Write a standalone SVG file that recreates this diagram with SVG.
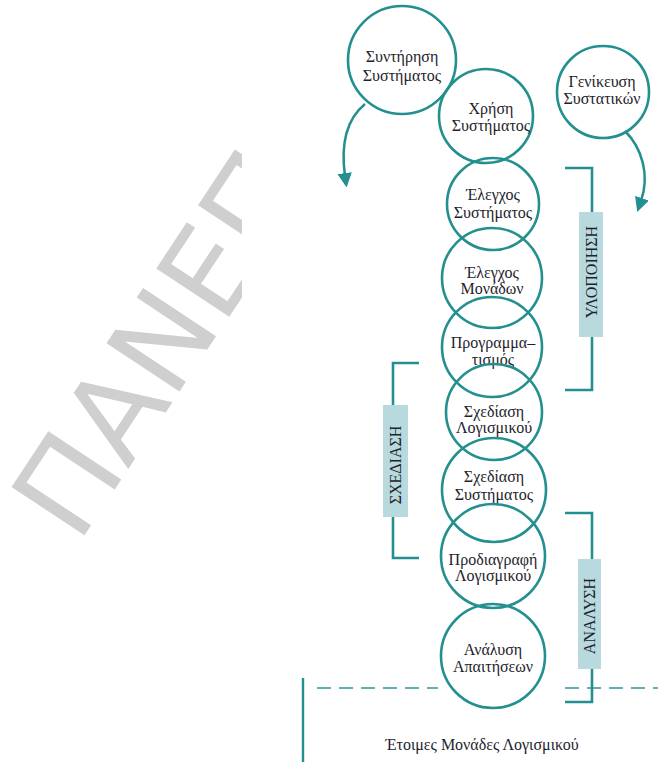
<svg xmlns="http://www.w3.org/2000/svg" width="658" height="762" viewBox="0 0 658 762">
  <style>
    .stage circle { fill: none; stroke: #23908f; stroke-width: 2.6; }
    .stage text, .caption { font-family: "Liberation Serif", "Times New Roman", serif; font-size: 16px; fill: #1e1e2c; text-anchor: middle; }
    .bracket { fill: none; stroke: #23908f; stroke-width: 2.6; }
    .tag rect { fill: #b8dade; }
    .tag text { font-family: "Liberation Serif", "Times New Roman", serif; font-size: 16px; fill: #1e1e2c; text-anchor: middle; }
    .flow { fill: none; stroke: #23908f; stroke-width: 2.5; }
    .watermark { font-family: "DejaVu Sans", sans-serif; font-size: 120px; fill: #cfcfcf; }
  </style>
  <defs>
    <marker id="head" viewBox="0 0 10 10" refX="2" refY="5" markerWidth="5.8" markerHeight="5.8" orient="auto" markerUnits="strokeWidth">
      <path d="M0,0 L10,5 L0,10 Z" fill="#23908f"/>
    </marker>
    <clipPath id="wm-clip">
      <rect x="0" y="0" width="242" height="762"/>
    </clipPath>
  </defs>

  <rect width="658" height="762" fill="#ffffff"/>

  <!-- background watermark -->
  <g clip-path="url(#wm-clip)">
    <text class="watermark" transform="translate(78,545) rotate(-56.5)">ΠΑΝΕΠ</text>
  </g>

  <!-- baseline of finished software units -->
  <g id="base">
    <line x1="317" y1="688" x2="438" y2="688" stroke="#5fb2b3" stroke-width="2" stroke-dasharray="14 8"/>
    <line x1="565" y1="688" x2="658" y2="688" stroke="#5fb2b3" stroke-width="2" stroke-dasharray="14 8"/>
    <line x1="303" y1="678" x2="303" y2="762" stroke="#23908f" stroke-width="2.4"/>
    <text class="caption" x="482" y="750">Έτοιμες Μονάδες Λογισμικού</text>
  </g>

  <!-- life-cycle stages -->
  <g id="maintenance" class="stage">
    <circle cx="402" cy="60" r="54"/>
    <text x="402" y="62">Συντήρηση</text>
    <text x="402" y="81">Συστήματος</text>
  </g>
  <g id="usage" class="stage">
    <circle cx="486" cy="116" r="47"/>
    <text x="491" y="114">Χρήση</text>
    <text x="491" y="131">Συστήματος</text>
  </g>
  <g id="generalisation" class="stage">
    <circle cx="603" cy="92" r="46"/>
    <text x="602" y="87">Γενίκευση</text>
    <text x="602" y="104">Συστατικών</text>
  </g>
  <g id="system-test" class="stage">
    <circle cx="493" cy="204" r="46"/>
    <text x="493" y="200">Έλεγχος</text>
    <text x="493" y="218">Συστήματος</text>
  </g>
  <g id="unit-test" class="stage">
    <circle cx="492" cy="278" r="50"/>
    <text x="492" y="278">Έλεγχος</text>
    <text x="492" y="294">Μονάδων</text>
  </g>
  <g id="programming" class="stage">
    <circle cx="492" cy="347" r="50"/>
    <text x="493" y="348">Προγραμμα–</text>
    <text x="493" y="365">τισμός</text>
  </g>
  <g id="software-design" class="stage">
    <circle cx="494" cy="412" r="48"/>
    <text x="494" y="417">Σχεδίαση</text>
    <text x="494" y="433">Λογισμικού</text>
  </g>
  <g id="system-design" class="stage">
    <circle cx="494" cy="490" r="52"/>
    <text x="494" y="482">Σχεδίαση</text>
    <text x="494" y="500">Συστήματος</text>
  </g>
  <g id="specification" class="stage">
    <circle cx="493" cy="556" r="52"/>
    <text x="493" y="565">Προδιαγραφή</text>
    <text x="493" y="581">Λογισμικού</text>
  </g>
  <g id="requirements" class="stage">
    <circle cx="493" cy="656" r="52"/>
    <text x="493" y="655">Ανάλυση</text>
    <text x="493" y="672">Απαιτήσεων</text>
  </g>

  <!-- phase brackets -->
  <g id="implementation">
    <path class="bracket" d="M565,168 H592 V390 H565"/>
    <g class="tag">
      <rect x="579" y="212" width="24" height="125"/>
      <text transform="translate(597,272) rotate(-90)">ΥΛΟΠΟΙΗΣΗ</text>
    </g>
  </g>
  <g id="design">
    <path class="bracket" d="M419,363 H393 V558 H419"/>
    <g class="tag">
      <rect x="383" y="405" width="25" height="112"/>
      <text transform="translate(401,465) rotate(-90)">ΣΧΕΔΙΑΣΗ</text>
    </g>
  </g>
  <g id="analysis">
    <path class="bracket" d="M565,513 H592 V702 H565"/>
    <g class="tag">
      <rect x="578" y="559" width="23" height="110"/>
      <text transform="translate(595,616) rotate(-90)">ΑΝΑΛΥΣΗ</text>
    </g>
  </g>

  <!-- connectors -->
  <g id="connectors">
    <path class="flow" d="M365,104 C348,118 340,140 345,176" marker-end="url(#head)"/>
    <path class="flow" d="M625,131 C642,148 650,175 641,201" marker-end="url(#head)"/>
  </g>
</svg>
